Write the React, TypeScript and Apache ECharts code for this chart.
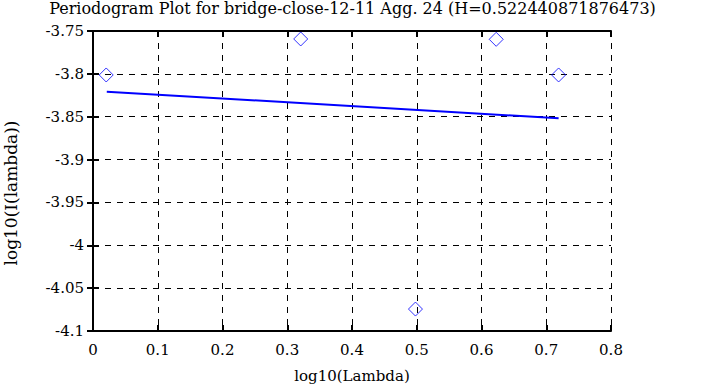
import React, { useEffect, useRef } from "react";
import * as echarts from "echarts";

const titleText = "Periodogram Plot for bridge-close-12-11 Agg. 24 (H=0.522440871876473)";
const xName = "log10(Lambda)";
const yName = "log10(I(lambda))";
const pointsX = [0.0204, 0.3208, 0.498, 0.6227, 0.7191];
const pointsY = [-3.8013, -3.7593, -4.0744, -3.7597, -3.8013];
const fitX = [0.0213, 0.7191];
const fitY = [-3.8208, -3.8519];
const yTicks = ["-3.75", "-3.8", "-3.85", "-3.9", "-3.95", "-4", "-4.05", "-4.1"];

const FONT = "DejaVu Serif";

export default function App() {
  const ref = useRef<HTMLDivElement>(null);
  useEffect(() => {
    if (!ref.current) return;
    const chart = echarts.init(ref.current, undefined, { renderer: "svg" });
    const axisLine = { show: true, lineStyle: { color: "#000", width: 2 } };
    const tick = { show: true, inside: true, length: 6, lineStyle: { color: "#000", width: 2 } };
    const split = { show: true, lineStyle: { color: "#000", type: [6, 6] as any, width: 1 } };
    chart.setOption({
      animation: false,
      backgroundColor: "#fff",
      title: {
        text: titleText,
        left: "center",
        top: 0,
        padding: 0,
        textStyle: { fontFamily: FONT, fontSize: 16, fontWeight: "normal", color: "#000" },
      },
      graphic: [
        {
          type: "text",
          x: 11,
          y: 193,
          rotation: Math.PI / 2,
          style: {
            text: yName,
            fontFamily: FONT,
            fontSize: 17,
            fill: "#000",
            align: "center",
            verticalAlign: "middle",
          },
        },
      ],
      grid: { left: 93, right: 94, top: 31, bottom: 56, show: false, outerBoundsMode: "none" },
      xAxis: [
        {
          type: "value",
          min: 0,
          max: 0.8,
          interval: 0.1,
          name: xName,
          nameLocation: "middle",
          nameGap: 37,
          nameTextStyle: { fontFamily: FONT, fontSize: 15, color: "#000" },
          axisLine,
          axisTick: tick,
          splitLine: split,
          axisLabel: {
            fontFamily: FONT,
            fontSize: 15,
            color: "#000",
            margin: 11,
            formatter: (v: number) => String(Math.round(v * 10) / 10),
          },
        },
        {
          type: "value",
          position: "top",
          min: 0,
          max: 0.8,
          interval: 0.1,
          axisLine,
          axisTick: tick,
          splitLine: { show: false },
          axisLabel: { show: false },
        },
      ],
      yAxis: [
        {
          type: "value",
          min: -4.1,
          max: -3.75,
          interval: 0.05,
          axisLine,
          axisTick: tick,
          splitLine: split,
          axisLabel: {
            fontFamily: FONT,
            fontSize: 15,
            color: "#000",
            margin: 9,
            formatter: (v: number) => {
              const idx = Math.round((-3.75 - v) / 0.05);
              return yTicks[idx] ?? String(v);
            },
          },
        },
        {
          type: "value",
          position: "right",
          min: -4.1,
          max: -3.75,
          interval: 0.05,
          axisLine,
          axisTick: tick,
          splitLine: { show: false },
          axisLabel: { show: false },
        },
      ],
      series: [
        {
          type: "scatter",
          data: pointsX.map((x, i) => [x, pointsY[i]]),
          symbol: "diamond",
          symbolSize: 14,
          itemStyle: { color: "none", borderColor: "#0000ff", borderWidth: 1 },
          z: 5,
        },
        {
          type: "line",
          data: fitX.map((x, i) => [x, fitY[i]]),
          symbol: "none",
          lineStyle: { color: "#0000ff", width: 2 },
          z: 4,
        },
      ],
    });
    return () => chart.dispose();
  }, []);
  return (
    <div
      ref={ref}
      style={{ position: "absolute", left: 0, top: 0, width: 705, height: 387 }}
    />
  );
}
